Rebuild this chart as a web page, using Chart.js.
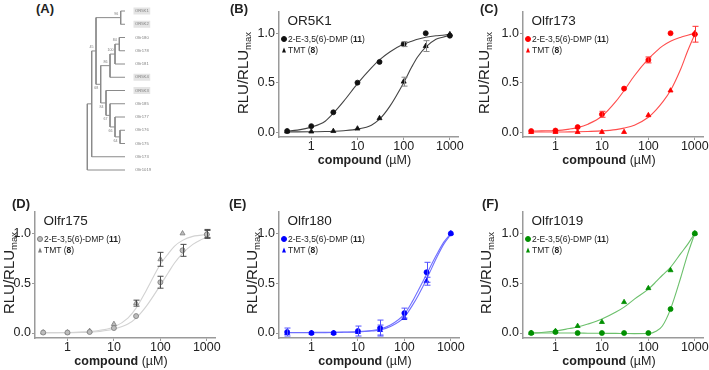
<!DOCTYPE html>
<html><head><meta charset="utf-8">
<script src="https://cdn.jsdelivr.net/npm/chart.js@4.4.1/dist/chart.umd.min.js"></script>
<style>
body{margin:0;background:#fff;width:709px;height:370px;overflow:hidden;position:relative;font-family:"Liberation Sans",Arial,sans-serif;}
canvas{position:absolute;}
.t{position:absolute;white-space:nowrap;color:#222;line-height:1;}
.letter{font-weight:bold;font-size:13px;transform:translateY(-50%);}
.ptitle{font-size:13.5px;transform:translateY(-50%);}
.xt{font-size:12.5px;transform:translate(-50%,-50%);}
.yt{font-size:15px;transform:translate(-50%,-50%) rotate(-90deg);}
.yt sub{font-size:9.5px;vertical-align:-3px;}
.leg{font-size:8.5px;transform:translateY(-50%);}
.mk{position:absolute;transform:translate(-50%,-50%);}
</style></head><body>
<script>
// ---------------- DATA ----------------
const concentrations = [0.3, 1, 3, 10, 30, 100, 300, 1000];
const curveConc = [0.3, 0.5, 1, 2, 3, 5, 10, 20, 30, 50, 100, 150, 200, 300, 500, 700, 1000];
const xTickValues = [1, 10, 100, 1000];
const yTickValues = [0, 0.5, 1];
const legendLabels = ['2-E-3,5(6)-DMP', 'TMT'];
const compoundNumbers = ['11', '8'];

// OR5K1
const or5k1DmpMean = [0.01, 0.06, 0.20, 0.50, 0.71, 0.89, 1.00, 0.975];
const or5k1DmpErr  = [0.005, 0.005, 0.01, 0.01, 0.015, 0.025, 0.005, 0.015];
const or5k1TmtMean = [0.005, 0.005, 0.01, 0.035, 0.14, 0.51, 0.87, 0.99];
const or5k1TmtErr  = [0, 0, 0, 0, 0.01, 0.045, 0.055, 0.01];
const or5k1DmpCurve = [0.01, 0.02, 0.05, 0.11, 0.19, 0.31, 0.49, 0.65, 0.73, 0.81, 0.89, 0.92, 0.94, 0.96, 0.975, 0.98, 0.99];
const or5k1TmtCurve = [0.002, 0.002, 0.003, 0.005, 0.008, 0.014, 0.03, 0.07, 0.13, 0.26, 0.50, 0.66, 0.76, 0.86, 0.94, 0.96, 0.98];

// Olfr173
const olfr173DmpMean = [0.01, 0.015, 0.05, 0.18, 0.44, 0.73, 1.00, 0.99];
const olfr173DmpErr  = [0.005, 0.01, 0.01, 0.03, 0.02, 0.03, 0.005, 0.08];
const olfr173TmtMean = [0.0, 0.0, 0.0, 0.0, 0.0, 0.17, 0.42, 1.00];
const olfr173TmtErr  = [0, 0, 0, 0, 0, 0.01, 0.01, 0.01];
const olfr173DmpCurve = [0.01, 0.012, 0.015, 0.03, 0.045, 0.08, 0.16, 0.31, 0.42, 0.57, 0.74, 0.82, 0.87, 0.92, 0.96, 0.98, 1.00];
const olfr173TmtCurve = [0.0, 0.0, 0.0, 0.002, 0.003, 0.006, 0.012, 0.025, 0.04, 0.07, 0.15, 0.23, 0.30, 0.42, 0.64, 0.82, 0.99];

// Olfr175
const olfr175DmpMean = [0.005, 0.005, 0.01, 0.05, 0.17, 0.51, 0.83, 0.99];
const olfr175DmpErr  = [0, 0, 0.01, 0.01, 0.02, 0.06, 0.06, 0.04];
const olfr175TmtMean = [0.005, 0.005, 0.02, 0.09, 0.30, 0.74, 1.00, 1.00];
const olfr175TmtErr  = [0, 0, 0.01, 0.01, 0.03, 0.07, 0, 0.04];
const olfr175DmpCurve = [0.002, 0.003, 0.004, 0.006, 0.009, 0.016, 0.04, 0.09, 0.15, 0.27, 0.48, 0.61, 0.70, 0.80, 0.89, 0.93, 0.96];
const olfr175TmtCurve = [0.002, 0.003, 0.005, 0.009, 0.014, 0.027, 0.06, 0.15, 0.25, 0.43, 0.69, 0.80, 0.87, 0.93, 0.97, 0.98, 0.99];

// Olfr180
const olfr180DmpMean = [0.01, 0.0, 0.0, 0.02, 0.05, 0.20, 0.61, 1.00];
const olfr180DmpErr  = [0.04, 0.005, 0.005, 0.05, 0.08, 0.05, 0.10, 0];
const olfr180TmtMean = [0.0, 0.0, 0.0, 0.01, 0.03, 0.15, 0.52, 1.00];
const olfr180TmtErr  = [0.02, 0, 0, 0.02, 0.05, 0.02, 0.04, 0];
const olfr180DmpCurve = [0.005, 0.005, 0.006, 0.007, 0.008, 0.01, 0.014, 0.025, 0.04, 0.08, 0.19, 0.32, 0.43, 0.59, 0.79, 0.91, 1.00];
const olfr180TmtCurve = [0.002, 0.002, 0.003, 0.004, 0.005, 0.007, 0.01, 0.02, 0.03, 0.065, 0.16, 0.28, 0.38, 0.54, 0.76, 0.89, 0.99];

// Olfr1019
const olfr1019DmpMean = [0.0, 0.01, 0.0, 0.0, 0.0, 0.0, 0.24, 1.00];
const olfr1019DmpErr  = [0, 0, 0, 0, 0, 0, 0, 0];
const olfr1019TmtMean = [0.0, 0.02, 0.07, 0.11, 0.31, 0.45, 0.63, 1.00];
const olfr1019TmtErr  = [0, 0, 0, 0, 0, 0, 0, 0];
const olfr1019DmpCurve = [0.0, 0.0, 0.0, 0.0, 0.0, -0.002, -0.003, -0.004, -0.005, -0.006, -0.005, 0.02, 0.07, 0.24, 0.56, 0.79, 1.00];
const olfr1019TmtCurve = [0.0, 0.005, 0.02, 0.045, 0.06, 0.09, 0.14, 0.21, 0.26, 0.34, 0.44, 0.52, 0.58, 0.66, 0.80, 0.89, 1.00];

// Tree (panel A)
const leafNames = ['OR5K1','OR5K2','Olfr180','Olfr178','Olfr181','OR5K4','OR5K3','Olfr185','Olfr177','Olfr176','Olfr175','Olfr173','Olfr1019'];
const highlightedLeaves = ['OR5K1','OR5K2','OR5K4','OR5K3'];
const leafDepth = 37.7;
// node id: [child A, child B, depth from root, bootstrap support]
const treeNodes = {
  n1:  [0, 1, 33.4, 96],
  n2:  [2, 3, 32, 84],
  n3:  ['n2', 4, 27.7, 100],
  n4:  ['n3', 5, 22.7, 86],
  n5:  [9, 10, 32.7, 64],
  n6:  [8, 'n5', 27.7, 66],
  n7:  [7, 'n6', 22.7, 67],
  n8:  [6, 'n7', 18.7, 84],
  n9:  ['n4', 'n8', 13.4, 68],
  n10: ['n1', 'n9', 8.7, 45],
  n11: ['n10', 11, 4.4, null],
  n12: ['n11', 12, 0, null]
};
const treeRoot = 'n12';

// ---------------- PANELS ----------------
const FONT = '"Liberation Sans", Arial, sans-serif';
const panels = [
  {letter:'(B)', name:'OR5K1', dmp:or5k1DmpMean, dmpErr:or5k1DmpErr, tmt:or5k1TmtMean, tmtErr:or5k1TmtErr, dmpFit:or5k1DmpCurve, tmtFit:or5k1TmtCurve,
   marker:'#111111', markerBorder:'#111111', curve:'#444444', err:'#888888',
   box:{l:279, r:458, t:12, b:137, ytx:244, lx:230}},
  {letter:'(C)', name:'Olfr173', dmp:olfr173DmpMean, dmpErr:olfr173DmpErr, tmt:olfr173TmtMean, tmtErr:olfr173TmtErr, dmpFit:olfr173DmpCurve, tmtFit:olfr173TmtCurve,
   marker:'#ff0000', markerBorder:'#ff0000', curve:'#ff4d4d', err:'#ff3030',
   box:{l:523, r:703, t:12, b:137, ytx:485, lx:480}},
  {letter:'(D)', name:'Olfr175', dmp:olfr175DmpMean, dmpErr:olfr175DmpErr, tmt:olfr175TmtMean, tmtErr:olfr175TmtErr, dmpFit:olfr175DmpCurve, tmtFit:olfr175TmtCurve,
   marker:'#bdbdbd', markerBorder:'#7a7a7a', curve:'#d2d2d2', err:'#4a4a4a',
   box:{l:35, r:215, t:212, b:338, ytx:10, lx:12}},
  {letter:'(E)', name:'Olfr180', dmp:olfr180DmpMean, dmpErr:olfr180DmpErr, tmt:olfr180TmtMean, tmtErr:olfr180TmtErr, dmpFit:olfr180DmpCurve, tmtFit:olfr180TmtCurve,
   marker:'#0000ff', markerBorder:'#0000ff', curve:'#6f6fff', err:'#5050ff',
   box:{l:279, r:459, t:212, b:338, ytx:253, lx:229}},
  {letter:'(F)', name:'Olfr1019', dmp:olfr1019DmpMean, dmpErr:olfr1019DmpErr, tmt:olfr1019TmtMean, tmtErr:olfr1019TmtErr, dmpFit:olfr1019DmpCurve, tmtFit:olfr1019TmtCurve,
   marker:'#008f00', markerBorder:'#008f00', curve:'#6cc06c', err:'#008f00',
   box:{l:523, r:703, t:212, b:338, ytx:487, lx:482}}
];

function addText(cls, html, x, y, extra) {
  const d = document.createElement('div');
  d.className = 't ' + cls;
  d.innerHTML = html;
  d.style.left = x + 'px';
  d.style.top = y + 'px';
  if (extra) Object.assign(d.style, extra);
  document.body.appendChild(d);
  return d;
}

const errorBars = {
  id: 'errorBars',
  afterDatasetsDraw(chart) {
    const ctx = chart.ctx, xs = chart.scales.x, ys = chart.scales.y;
    chart.data.datasets.forEach(ds => {
      if (!ds.errors) return;
      ctx.save();
      ctx.strokeStyle = ds.errorColor;
      ctx.lineWidth = 1;
      ds.data.forEach((pt, i) => {
        const e = ds.errors[i];
        if (!e || e < 0.025) return;
        const px = Math.round(xs.getPixelForValue(pt.x)) + 0.5;
        const y1 = ys.getPixelForValue(pt.y + e), y2 = ys.getPixelForValue(pt.y - e);
        ctx.beginPath();
        ctx.moveTo(px, y1); ctx.lineTo(px, y2);
        ctx.moveTo(px - 3, y1); ctx.lineTo(px + 3, y1);
        ctx.moveTo(px - 3, y2); ctx.lineTo(px + 3, y2);
        ctx.stroke();
      });
      ctx.restore();
    });
  }
};

const PADL = 44, PADT = 14, PADR = 14, PADB = 24;

panels.forEach(p => {
  const g = p.box;
  const W = g.r - g.l + PADL + PADR, H = g.b - g.t + PADT + PADB;
  const c = document.createElement('canvas');
  c.width = W; c.height = H;
  c.style.left = (g.l - PADL) + 'px';
  c.style.top = (g.t - PADT) + 'px';
  c.style.width = W + 'px'; c.style.height = H + 'px';
  document.body.appendChild(c);

  const pts = (xs, ys) => xs.map((x, i) => ({x, y: ys[i]}));
  const axisColor = '#9a9a9a';
  new Chart(c, {
    type: 'scatter',
    data: {
      datasets: [
        {label: legendLabels[0], data: pts(concentrations, p.dmp), errors: p.dmpErr, errorColor: p.err,
         pointStyle: 'circle', pointRadius: 2.5, backgroundColor: p.marker, borderColor: p.markerBorder, borderWidth: 0.8, clip: false},
        {label: legendLabels[1], data: pts(concentrations, p.tmt), errors: p.tmtErr, errorColor: p.err,
         pointStyle: 'triangle', pointRadius: 2.9, backgroundColor: p.marker, borderColor: p.markerBorder, borderWidth: 0.8, clip: false},
        {type: 'line', data: pts(curveConc, p.dmpFit), borderColor: p.curve, borderWidth: 1.1, pointRadius: 0,
         cubicInterpolationMode: 'monotone', fill: false, clip: false},
        {type: 'line', data: pts(curveConc, p.tmtFit), borderColor: p.curve, borderWidth: 1.1, pointRadius: 0,
         cubicInterpolationMode: 'monotone', fill: false, clip: false}
      ]
    },
    options: {
      responsive: false, animation: false, devicePixelRatio: 1,
      layout: {padding: {left: 0, top: PADT, right: PADR, bottom: 0}},
      plugins: {legend: {display: false}, tooltip: {enabled: false}},
      events: [],
      scales: {
        x: {
          type: 'logarithmic', min: 0.2, max: 1500,
          afterBuildTicks: s => { s.ticks = xTickValues.map(v => ({value: v})); },
          afterFit: s => { s.height = PADB; },
          grid: {display: true, drawOnChartArea: false, drawTicks: true, tickLength: 3, color: axisColor, lineWidth: 1},
          border: {display: true, color: axisColor, width: 1.5},
          ticks: {callback: v => String(v), color: '#222', padding: 0, maxRotation: 0, autoSkip: false,
                  font: {family: FONT, size: 12.5, lineHeight: 1}}
        },
        y: {
          type: 'linear', min: -0.05, max: 1.215,
          afterBuildTicks: s => { s.ticks = yTickValues.map(v => ({value: v})); },
          afterFit: s => { s.width = PADL; },
          grid: {display: true, drawOnChartArea: false, drawTicks: true, tickLength: 3, color: axisColor, lineWidth: 1},
          border: {display: true, color: axisColor, width: 1.5},
          ticks: {callback: v => v.toFixed(1), color: '#222', padding: 1,
                  font: {family: FONT, size: 12.5, lineHeight: 1}}
        }
      }
    },
    plugins: [errorBars]
  });

  // texts
  const top = g.t < 100 ? 8.3 : 203.3;
  addText('letter', p.letter, g.lx, top);
  addText('ptitle', p.name, g.l + 8.5, g.t + 9);
  addText('xt', '<b>compound</b> (\u00b5M)', (g.l + g.r) / 2 - 4, g.b + 23);
  addText('yt', 'RLU/RLU<sub>max</sub>', g.ytx, (g.t + g.b) / 2 - 2);
  // legend
  const ly = [g.t + 27, g.t + 37.5];
  legendLabels.forEach((lab, i) => {
    const m = document.createElement('div');
    m.className = 'mk';
    m.style.left = (g.l + 5) + 'px';
    m.style.top = ly[i] + 'px';
    if (i === 0) {
      Object.assign(m.style, {width: '4px', height: '4px', borderRadius: '50%', background: p.marker, border: '0.7px solid ' + p.markerBorder});
    } else {
      Object.assign(m.style, {width: '0', height: '0', borderLeft: '2.7px solid transparent', borderRight: '2.7px solid transparent', borderBottom: '5px solid ' + p.markerBorder});
    }
    document.body.appendChild(m);
    addText('leg', lab + ' (<b>' + compoundNumbers[i] + '</b>)', g.l + 9, ly[i]);
  });
});

// ---------------- TREE (panel A) ----------------
addText('letter', '(A)', 36, 8.3);
(function () {
  const pos = {};
  function place(id) {
    if (typeof id === 'number') return {x: leafDepth, y: id};
    if (pos[id]) return pos[id];
    const [a, b, depth] = treeNodes[id];
    const pa = place(a), pb = place(b);
    pos[id] = {x: depth, y: (pa.y + pb.y) / 2, a: pa, b: pb};
    return pos[id];
  }
  place(treeRoot);
  const seg = [];
  Object.keys(treeNodes).forEach(id => {
    const n = pos[id];
    seg.push({x: n.x, y: n.a.y}, {x: n.x, y: n.b.y}, {x: NaN, y: NaN});
    seg.push({x: n.x, y: n.a.y}, {x: n.a.x, y: n.a.y}, {x: NaN, y: NaN});
    seg.push({x: n.x, y: n.b.y}, {x: n.b.x, y: n.b.y}, {x: NaN, y: NaN});
  });
  const side = {};
  Object.keys(treeNodes).forEach(id => {
    const [a, b] = treeNodes[id];
    if (typeof a === 'string') side[a] = -1;
    if (typeof b === 'string') side[b] = 1;
  });
  const supportLabels = {
    id: 'supportLabels',
    afterDatasetsDraw(chart) {
      const ctx = chart.ctx, xs = chart.scales.x, ys = chart.scales.y;
      ctx.save();
      ctx.fillStyle = '#7a7a7a';
      ctx.font = '3.6px ' + FONT;
      ctx.textAlign = 'center';
      ctx.textBaseline = 'middle';
      Object.keys(treeNodes).forEach(id => {
        const s = treeNodes[id][3];
        if (s == null) return;
        const n = pos[id];
        const dy = (side[id] || -1) * 4;
        ctx.fillText(String(s), xs.getPixelForValue(n.x) - 4.5, ys.getPixelForValue(n.y) + dy);
      });
      ctx.restore();
    }
  };
  const L = 80, PL = 7.3, AW = 40, PT = 11, PB = 15;
  const W = Math.round(PL + 37.7 + AW), H = 185;
  const c = document.createElement('canvas');
  c.width = W; c.height = H;
  c.style.left = L + 'px'; c.style.top = '0px';
  c.style.width = W + 'px'; c.style.height = H + 'px';
  document.body.appendChild(c);
  new Chart(c, {
    type: 'scatter',
    data: {datasets: [{data: seg, showLine: true, spanGaps: false, borderColor: '#8a8a8a', borderWidth: 1,
                       pointRadius: 0, clip: false}]},
    options: {
      responsive: false, animation: false, devicePixelRatio: 1, events: [],
      layout: {padding: {left: PL, top: PT, right: 0, bottom: PB}},
      plugins: {legend: {display: false}, tooltip: {enabled: false}},
      scales: {
        x: {type: 'linear', min: 0, max: leafDepth, display: false},
        y: {
          type: 'linear', min: 0, max: leafNames.length - 1, reverse: true, position: 'right',
          afterBuildTicks: s => { s.ticks = leafNames.map((_, i) => ({value: i})); },
          afterFit: s => { s.width = AW; },
          grid: {display: false}, border: {display: false},
          ticks: {
            callback: v => leafNames[v], color: '#808080', padding: 2,
            font: {family: FONT, size: 4.2},
            showLabelBackdrop: ctx => highlightedLeaves.includes(leafNames[ctx.index]),
            backdropColor: '#e4e4e4', backdropPadding: {x: 1.5, y: 1}
          }
        }
      }
    },
    plugins: [supportLabels]
  });
})();
</script>
</body></html>
